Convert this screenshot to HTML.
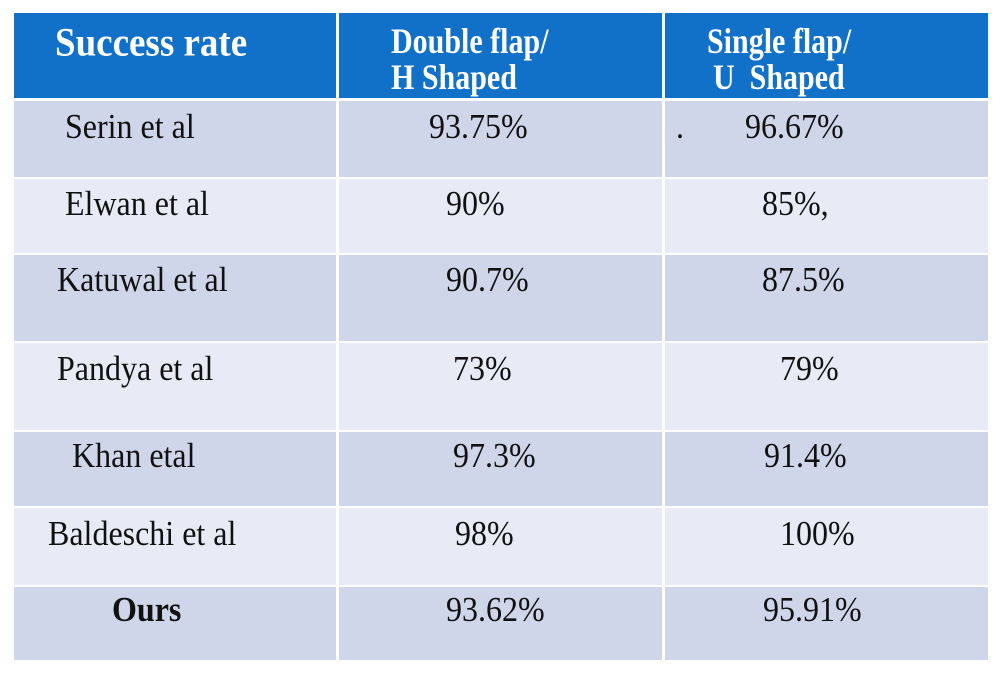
<!DOCTYPE html>
<html><head><style>
body{margin:0;width:1000px;height:675px;background:#fff;position:relative;overflow:hidden;font-family:"Liberation Serif",serif;}
.r{position:absolute;left:14px;width:974px;}
.v{position:absolute;top:13px;width:3px;height:647px;background:#fff;}
.t{position:absolute;font-size:32px;line-height:30px;color:#111;white-space:pre;transform:scaleY(1.08);transform-origin:0 0;margin-top:-3px;}
.h{color:#fff;font-weight:bold;font-size:30px;transform:scaleY(1.2);margin-top:3px;}
</style></head><body>
<div class="r" style="top:13px;height:85px;background:#1170c8"></div>
<div class="r" style="top:101px;height:76px;background:#cfd6ea"></div>
<div class="r" style="top:179px;height:74px;background:#e8ebf5"></div>
<div class="r" style="top:255px;height:86px;background:#cfd6ea"></div>
<div class="r" style="top:343px;height:87px;background:#e8ebf5"></div>
<div class="r" style="top:432px;height:74px;background:#cfd6ea"></div>
<div class="r" style="top:508px;height:77px;background:#e8ebf5"></div>
<div class="r" style="top:587px;height:73px;background:#cfd6ea"></div>
<div class="v" style="left:336px"></div>
<div class="v" style="left:662px"></div>

<div class="t h" style="left:55px;top:26px;font-size:37px;transform:scaleY(1.1);margin-top:1px">Success rate</div>
<div class="t h" style="left:391px;top:21px">Double flap/</div>
<div class="t h" style="left:391px;top:57px">H Shaped</div>
<div class="t h" style="left:707px;top:21px">Single flap/</div>
<div class="t h" style="left:713px;top:57px">U  Shaped</div>

<div class="t" style="left:65px;top:113px">Serin et al</div>
<div class="t" style="left:429px;top:113px">93.75%</div>
<div class="t" style="left:676px;top:113px">.</div>
<div class="t" style="left:745px;top:113px">96.67%</div>

<div class="t" style="left:65px;top:190px">Elwan et al</div>
<div class="t" style="left:446px;top:190px">90%</div>
<div class="t" style="left:762px;top:190px">85%,</div>

<div class="t" style="left:57px;top:266px">Katuwal et al</div>
<div class="t" style="left:446px;top:266px">90.7%</div>
<div class="t" style="left:762px;top:266px">87.5%</div>

<div class="t" style="left:57px;top:355px">Pandya et al</div>
<div class="t" style="left:453px;top:355px">73%</div>
<div class="t" style="left:780px;top:355px">79%</div>

<div class="t" style="left:72px;top:442px">Khan etal</div>
<div class="t" style="left:453px;top:442px">97.3%</div>
<div class="t" style="left:764px;top:442px">91.4%</div>

<div class="t" style="left:48px;top:520px">Baldeschi et al</div>
<div class="t" style="left:455px;top:520px">98%</div>
<div class="t" style="left:780px;top:520px">100%</div>

<div class="t" style="left:112px;top:596px;font-weight:bold">Ours</div>
<div class="t" style="left:446px;top:596px">93.62%</div>
<div class="t" style="left:763px;top:596px">95.91%</div>
</body></html>
